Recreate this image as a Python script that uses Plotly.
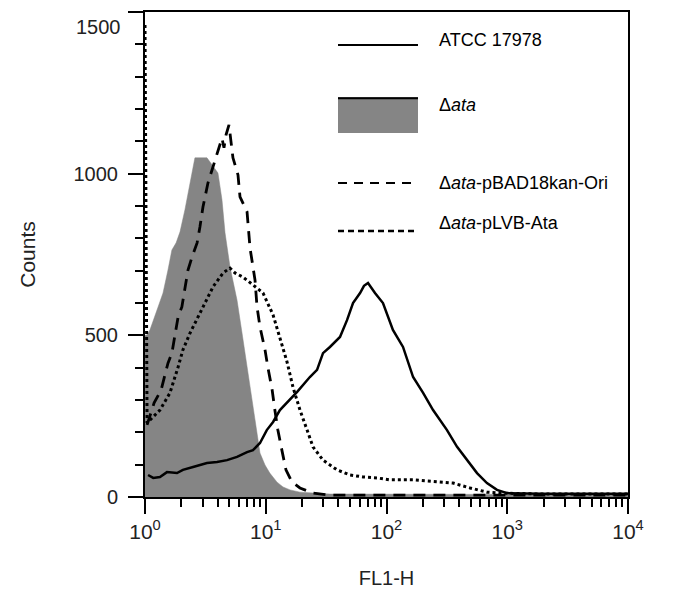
import plotly.graph_objects as go

# ---------------- data ----------------
# Δata (grey filled histogram)
ata_x = [1.0, 1.04, 1.10, 1.26, 1.41, 1.55, 1.67, 1.81, 1.95, 2.14, 2.36, 2.59, 3.26, 3.59,
         4.02, 4.34, 4.60, 5.06, 5.78, 6.36, 7.00, 7.69, 8.47, 8.96, 9.86, 10.8, 12.4,
         13.9, 15.9, 19.2, 34, 100, 1000, 10000]
ata_y = [500, 501, 517, 578, 631, 702, 764, 786, 820, 888, 965, 1049, 1049, 1027,
         1002, 919, 817, 711, 609, 507, 402, 300, 198, 136, 99, 74, 46,
         31, 22, 15, 9, 8, 8, 8]

# ATCC 17978 (solid)
atcc_x = [1.06, 1.17, 1.33, 1.52, 1.84, 2.06, 2.50, 3.26, 3.95, 4.78, 5.78, 7.00, 7.84,
          8.96, 10.2, 11.5, 13.1, 15.0, 18.2, 23.2, 26.6, 29.8, 34.0, 41.2, 47.1, 52.8,
          60.4, 65.1, 70.3, 80.3, 93.5, 113, 137, 166, 201, 243, 317, 384, 464, 562,
          679, 822, 995, 2000, 5000, 10000]
atcc_y = [68, 59, 62, 77, 74, 84, 93, 105, 108, 114, 124, 139, 145,
          167, 207, 232, 269, 291, 325, 371, 393, 445, 464, 495, 547, 600,
          631, 653, 662, 631, 600, 517, 464, 371, 322, 269, 207, 155, 114, 74,
          43, 22, 12, 10, 10, 10]

# Δata-pBAD18kan-Ori (dashed)
ori_x = [1.04, 1.19, 1.36, 1.55, 1.67, 1.88, 2.02, 2.14, 2.27, 2.45, 2.70, 2.85, 3.02,
         3.32, 3.59, 4.02, 4.34, 4.51, 4.69, 4.96, 5.35, 5.89, 6.12, 7.00, 7.41, 8.15,
         8.47, 8.96, 9.86, 10.4, 11.3, 11.9, 12.6, 13.6, 14.7, 16.5, 19.2, 24.6, 34,
         200, 10000]
ori_y = [223, 291, 331, 414, 445, 557, 588, 650, 702, 742, 786, 835, 897,
         971, 1011, 1073, 1110, 1080, 1120, 1151, 1049, 996, 928, 882, 770, 671,
         588, 526, 455, 402, 331, 269, 207, 145, 84, 46, 28, 12, 6,
         6, 6]

# Δata-pLVB-Ata (dotted)
lvb_x = [1.0, 1.04, 1.33, 1.61, 1.88, 2.06, 2.36, 2.75, 3.26, 3.66, 4.43, 5.06, 5.56,
         6.48, 7.84, 9.49, 11.5, 13.1, 15.0, 16.8, 19.2, 22.0, 24.6, 29.8, 38.9, 49.9,
         63.9, 83.4, 107, 166, 262, 356, 492, 679, 871, 2000, 10000]
lvb_y = [1460, 229, 269, 322, 402, 455, 507, 557, 616, 650, 693, 708, 693,
         680, 656, 631, 563, 495, 418, 340, 269, 207, 155, 114, 84, 68,
         62, 59, 53, 53, 46, 43, 28, 15, 12, 9, 9]

x_tickvals = [1, 10, 100, 1000, 10000]
x_ticktext = ["10<sup>0</sup>", "10<sup>1</sup>", "10<sup>2</sup>", "10<sup>3</sup>", "10<sup>4</sup>"]
y_tickvals = [0, 500, 1000, 1500]
y_ticktext = ["0", "500", "1000", ""]   # top label drawn just below its tick (as in the reference)
y_top_label = "1500"

legend_labels = ["ATCC 17978", "Δ<i>ata</i>", "Δ<i>ata</i>-pBAD18kan-Ori", "Δ<i>ata</i>-pLVB-Ata"]

FONT = "Liberation Sans, Arial, sans-serif"
GREY = "#858585"

fig = go.Figure()
fig.add_trace(go.Scatter(x=ata_x, y=ata_y, mode="lines", fill="tozeroy",
                         fillcolor=GREY, line=dict(color=GREY, width=0.5),
                         showlegend=False, hoverinfo="skip"))
fig.add_trace(go.Scatter(x=ori_x, y=ori_y, mode="lines",
                         line=dict(color="black", width=2.8, dash="12px,8px"),
                         showlegend=False))
fig.add_trace(go.Scatter(x=lvb_x, y=lvb_y, mode="lines",
                         line=dict(color="black", width=3, dash="3px,3px"),
                         showlegend=False))
fig.add_trace(go.Scatter(x=atcc_x, y=atcc_y, mode="lines",
                         line=dict(color="black", width=2.5),
                         showlegend=False))

# ---------------- custom legend (paper coordinates) ----------------
X0, X1, XT = 0.3996, 0.5652, 0.6046
fig.add_shape(type="line", xref="paper", yref="paper", x0=X0, x1=X1, y0=0.932, y1=0.932,
              line=dict(color="black", width=2))
fig.add_shape(type="rect", xref="paper", yref="paper", x0=X0, x1=X1, y0=0.7505, y1=0.8247,
              fillcolor=GREY, line=dict(width=0))
fig.add_shape(type="line", xref="paper", yref="paper", x0=X0, x1=X1, y0=0.822, y1=0.822,
              line=dict(color="black", width=2))
fig.add_shape(type="line", xref="paper", yref="paper", x0=X0, x1=X1, y0=0.6474, y1=0.6474,
              line=dict(color="black", width=2, dash="9px,7px"))
fig.add_shape(type="line", xref="paper", yref="paper", x0=X0, x1=X1, y0=0.5485, y1=0.5485,
              line=dict(color="black", width=2.5, dash="6px,4px"))
for lab, yy in zip(legend_labels, [0.942, 0.808, 0.647, 0.565]):
    fig.add_annotation(text=lab, xref="paper", yref="paper", x=XT, y=yy,
                       xanchor="left", yanchor="middle", showarrow=False,
                       font=dict(family=FONT, size=18, color="black"))

# top y tick label, kept inside the figure just below its tick
fig.add_annotation(text=y_top_label, xref="paper", yref="paper", x=-0.045, y=0.969,
                   xanchor="right", yanchor="middle", showarrow=False,
                   font=dict(family=FONT, size=20, color="#222"))

# the page body has an 8px default margin, so the figure is sized to fit inside it
fig.update_layout(
    width=659, height=581,
    margin=dict(l=137, r=39, t=4, b=92),
    paper_bgcolor="white", plot_bgcolor="white",
    font=dict(family=FONT, color="black"),
    showlegend=False,
    xaxis=dict(type="log", range=[0, 4], tickvals=x_tickvals, ticktext=x_ticktext,
               automargin=False,
               ticks="outside", ticklen=15, tickwidth=2, tickcolor="black",
               showline=True, linecolor="black", linewidth=2, mirror=True,
               showgrid=False, zeroline=False,
               tickfont=dict(family=FONT, size=21, color="#222"),
               minor=dict(ticks="outside", ticklen=8, tickwidth=1.5, tickcolor="black",
                          dtick="D1", showgrid=False),
               title=dict(text="FL1-H", font=dict(family=FONT, size=20, color="#222"),
                          standoff=32)),
    yaxis=dict(range=[0, 1500], tickvals=y_tickvals, ticktext=y_ticktext,
               automargin=False,
               ticks="outside", ticklen=15, tickwidth=2, tickcolor="black",
               showline=True, linecolor="black", linewidth=2, mirror=True,
               showgrid=False, zeroline=False,
               tickfont=dict(family=FONT, size=20, color="#222"),
               ticklabelstandoff=6,
               minor=dict(ticks="outside", ticklen=8, tickwidth=1.5, tickcolor="black",
                          dtick=100, showgrid=False),
               title=dict(text="Counts", font=dict(family=FONT, size=21, color="#222"),
                          standoff=32)),
)

fig.write_html("out.html")
